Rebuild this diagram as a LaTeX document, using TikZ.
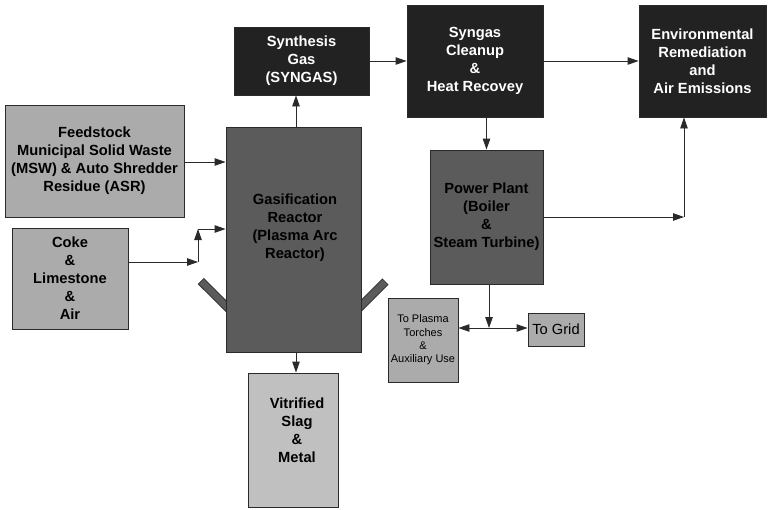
\documentclass[tikz,border=0pt]{standalone}
\usepackage{fontspec}
\setmainfont{Liberation Sans}
\usetikzlibrary{arrows.meta}
\definecolor{dk}{HTML}{222222}
\definecolor{md}{HTML}{5B5B5B}
\definecolor{lt}{HTML}{ABABAB}
\definecolor{vl}{HTML}{C0C0C0}
\definecolor{ln}{HTML}{2A2A2A}
\begin{document}
\begin{tikzpicture}[x=1pt,y=-1pt,
  box/.style={draw=ln, line width=0.9pt, inner sep=0pt, align=center,
    font=\fontsize{14.7}{18}\selectfont\bfseries},
  darkbox/.style={box, fill=dk, text=white},
  midbox/.style={box, fill=md},
  lightbox/.style={box, fill=lt},
  slagbox/.style={box, fill=vl},
  lbl/.style={align=center, inner sep=0pt, font=\fontsize{14.7}{18}\selectfont\bfseries},
  arr/.style={draw=ln, line width=0.9pt, -{Triangle[length=11pt,width=7.5pt]}},
  bar/.style={line width=8.6pt, draw=ln, line cap=butt},
  barfill/.style={line width=6.8pt, draw=md, line cap=butt}
]
\useasboundingbox (0,0) rectangle (768,509);

% plasma torch bars (behind reactor)
\coordinate (lb1) at (200.8,281);
\coordinate (lb2) at (236,316);
\coordinate (rb1) at (385.5,281.5);
\coordinate (rb2) at (351,316);
\draw[bar] (lb1) -- (lb2);
\draw[barfill] ([shift={(0.6,0.6)}]lb1) -- (lb2);
\draw[bar] (rb1) -- (rb2);
\draw[barfill] ([shift={(-0.6,0.6)}]rb1) -- (rb2);

% boxes
\node[darkbox, minimum width=135pt, minimum height=68pt] (syn) at (301.5,61) {Synthesis\\Gas\\(SYNGAS)};
\node[lightbox, minimum width=179pt, minimum height=112pt] (feed) at (94.5,161) {Feedstock\\Municipal Solid Waste\\(MSW) \& Auto Shredder\\Residue (ASR)};
\node[midbox, minimum width=135pt, minimum height=225pt] (reac) at (293.5,239.5) {};
\node[lbl] (reactxt) at (295,228) {Gasification\\Reactor\\(Plasma Arc\\Reactor)};
\node[darkbox, minimum width=136pt, minimum height=112pt] (clean) at (475,61) {Syngas\\Cleanup\\\&\\Heat Recovey};
\node[darkbox, minimum width=127pt, minimum height=112pt] (env) at (702.5,61) {Environmental\\Remediation\\and\\Air Emissions};
\node[midbox, minimum width=113pt, minimum height=134pt] (power) at (486.5,217) {Power Plant\\(Boiler\\\&\\Steam Turbine)};
\node[lightbox, minimum width=70pt, minimum height=84pt, font=\fontsize{11}{13.4}\selectfont] (plasma) at (423,340) {To Plasma\\Torches\\\&\\Auxiliary Use};
\node[lightbox, minimum width=56pt, minimum height=33pt, font=\fontsize{14.7}{18}\selectfont] (grid) at (556,329.5) {To Grid};
\node[lightbox, minimum width=116pt, minimum height=101pt] (coke) at (70,278.5) {Coke\\\&\\Limestone\\\&\\Air};
\node[slagbox, minimum width=90pt, minimum height=134pt] (slag) at (293,440) {};
\node[lbl] (slagtxt) at (297,430) {Vitrified\\Slag\\\&\\Metal};

% connectors
\draw[arr] (feed.east |- 0,162) -- (reac.west |- 0,162);
\draw[arr] ([xshift=2.5pt]reac.north) -- ([xshift=2.5pt]reac.north |- syn.south);
\draw[arr] (syn.east) -- (clean.west);
\draw[arr] (clean.east) -- (env.west);
\draw[arr] (power.north |- clean.south) -- (power.north);
\coordinate (pe) at (684,217);
\draw[arr] (power.east |- pe) -- (pe);
\draw[arr] (pe) -- (pe |- env.south);
\coordinate (j) at (489,328);
\draw[arr] (power.south -| j) -- (j);
\draw[arr] (j) -- (j -| plasma.east);
\draw[arr] (j) -- (j -| grid.west);
\coordinate (c1) at (198,262);
\coordinate (c2) at (198,229);
\draw[arr] (coke.east |- c1) -- (c1);
\draw[arr] (c1) -- (c2);
\draw[arr] (c2) -- (c2 -| reac.west);
\draw[arr] ([xshift=2.5pt]reac.south) -- ([xshift=2.5pt]reac.south |- slag.north);
\end{tikzpicture}
\end{document}
